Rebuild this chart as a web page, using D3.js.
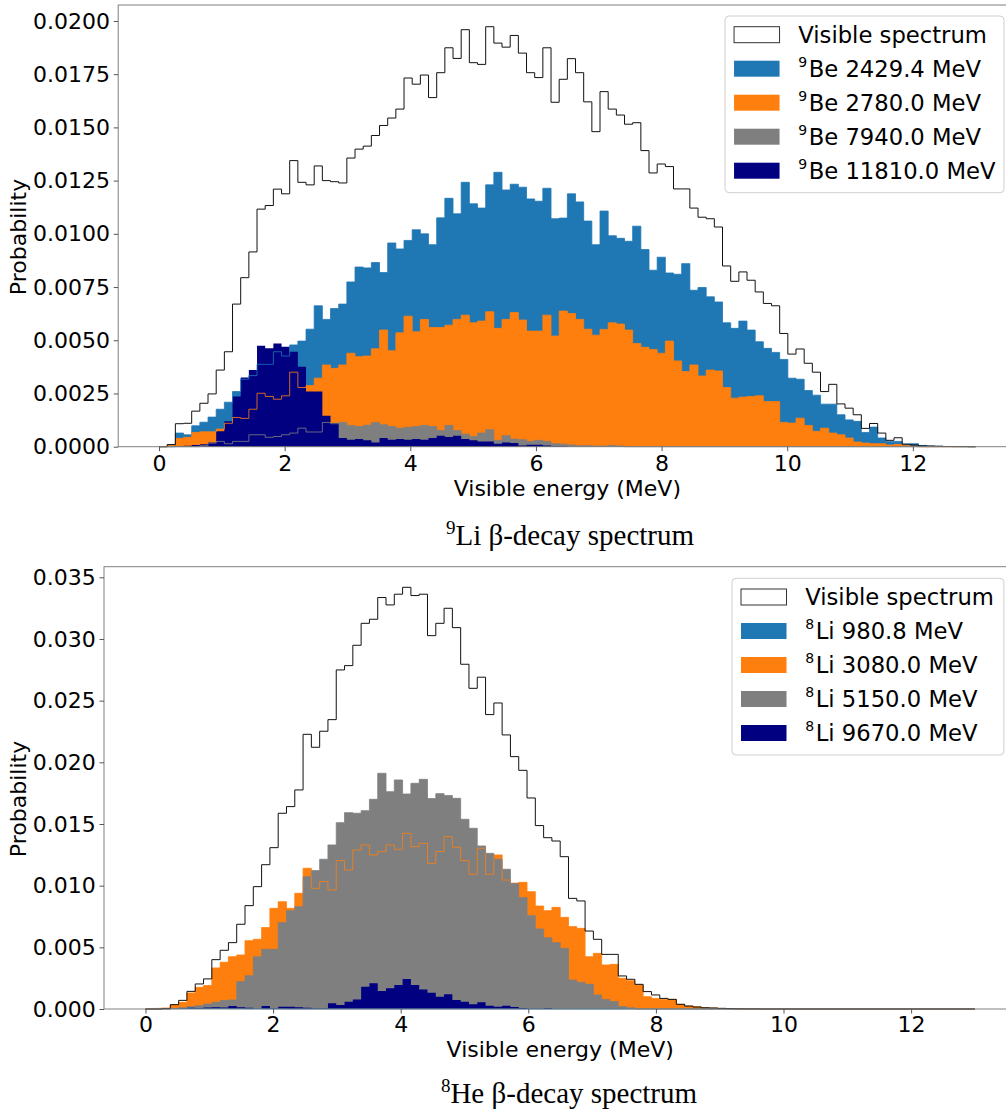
<!DOCTYPE html>
<html>
<head>
<meta charset="utf-8">
<script src="https://cdn.jsdelivr.net/npm/d3@7"></script>
<style>
  body { margin: 0; background: #fff; }
  text { font-family: "DejaVu Sans", sans-serif; }
  text.caption { font-family: "Liberation Serif", "Times New Roman", serif; }
</style>
</head>
<body>
<svg id="s" width="1006" height="1116" xmlns="http://www.w3.org/2000/svg"></svg>
<script>
// 100 histogram bins between 0 and 13 MeV
var nBins = 100, eLow = 0, eHigh = 13;
var binEdges = d3.range(nBins + 1).map(function (i) { return eLow + i * (eHigh - eLow) / nBins; });

var energyTicks = [0, 2, 4, 6, 8, 10, 12];
var li9ProbTicks = [0, 0.0025, 0.005, 0.0075, 0.01, 0.0125, 0.015, 0.0175, 0.02];
var he8ProbTicks = [0, 0.005, 0.01, 0.015, 0.02, 0.025, 0.03, 0.035];

var partColors = ["#1f77b4", "#ff7f0e", "#7f7f7f", "#000080"];
var li9Levels = ["2429.4", "2780.0", "7940.0", "11810.0"];
var he8Levels = ["980.8", "3080.0", "5150.0", "9670.0"];

// ---- 9Li ----
var li9Visible = [
  0, 0.0001, 0.00108, 0.0011, 0.00167, 0.00204, 0.00248, 0.0036, 0.00446, 0.0067,
  0.00794, 0.00915, 0.01116, 0.01133, 0.0121, 0.01188, 0.01344, 0.01242, 0.0123, 0.01319,
  0.0125, 0.01245, 0.01239, 0.01356, 0.01398, 0.01412, 0.01462, 0.01509, 0.01544, 0.01586,
  0.01732, 0.01703, 0.01746, 0.0164, 0.01757, 0.01874, 0.01824, 0.01959, 0.01804, 0.01796,
  0.01973, 0.01896, 0.01877, 0.01932, 0.01849, 0.01757, 0.01734, 0.01874, 0.01618, 0.01726,
  0.01823, 0.01757, 0.0162, 0.0148, 0.01668, 0.01586, 0.01558, 0.01515, 0.01522, 0.01391,
  0.01286, 0.01328, 0.01316, 0.01211, 0.01211, 0.01121, 0.01078, 0.01071, 0.01032, 0.00849,
  0.00777, 0.00821, 0.00782, 0.00727, 0.00673, 0.00662, 0.00532, 0.00435, 0.00459, 0.00392,
  0.0035, 0.00259, 0.00293, 0.00201, 0.00181, 0.0015, 0.00086, 0.00109, 0.00064, 0.0003,
  0.00042, 0.00012, 0.00008, 0.00004, 0.00003, 0.00002, 0.00001, 0.00001, 0.00001, 0];
var li9Be2429 = [
  0, 0, 0.00064, 0.00056, 0.00098, 0.00115, 0.00139, 0.00176, 0.00209, 0.00259,
  0.00317, 0.00334, 0.00387, 0.00387, 0.00446, 0.00426, 0.00478, 0.00496, 0.00552, 0.00662,
  0.00598, 0.00649, 0.0067, 0.00774, 0.00844, 0.0084, 0.00865, 0.00818, 0.00957, 0.00929,
  0.00969, 0.01019, 0.01, 0.00949, 0.01075, 0.01167, 0.01094, 0.01242, 0.01141, 0.01121,
  0.0123, 0.01289, 0.01206, 0.01233, 0.01219, 0.01164, 0.01153, 0.01214, 0.01071, 0.01074,
  0.01188, 0.0115, 0.0106, 0.00949, 0.01107, 0.00991, 0.00979, 0.00965, 0.01036, 0.00926,
  0.00829, 0.0089, 0.00816, 0.0081, 0.0086, 0.00735, 0.00748, 0.00704, 0.0068, 0.00582,
  0.00556, 0.0059, 0.00548, 0.00493, 0.00462, 0.00443, 0.0041, 0.00322, 0.00317, 0.00264,
  0.00242, 0.002, 0.002, 0.0015, 0.00126, 0.00119, 0.00067, 0.00092, 0.00041, 0.00025,
  0.00025, 0.00012, 0.00014, 0.00006, 0.00003, 0.00002, 0.00001, 0, 0, 0];
var li9Be2780 = [
  0, 0.00008, 0.00039, 0.00044, 0.00067, 0.0007, 0.0007, 0.00083, 0.0011, 0.00137,
  0.00133, 0.00176, 0.00251, 0.00236, 0.00223, 0.00239, 0.0035, 0.00278, 0.00287, 0.00322,
  0.00384, 0.00368, 0.00384, 0.00439, 0.00423, 0.00426, 0.0046, 0.00548, 0.00451, 0.00535,
  0.00613, 0.0054, 0.00598, 0.0056, 0.0056, 0.00571, 0.00598, 0.00618, 0.00582, 0.0059,
  0.00634, 0.00556, 0.00598, 0.0063, 0.00595, 0.00543, 0.00543, 0.00618, 0.0052, 0.00637,
  0.00626, 0.00598, 0.00552, 0.00524, 0.00551, 0.00582, 0.00576, 0.00548, 0.00485, 0.00467,
  0.00457, 0.00439, 0.00496, 0.00403, 0.00353, 0.00384, 0.00332, 0.0036, 0.00356, 0.00278,
  0.00228, 0.00233, 0.00236, 0.00239, 0.00212, 0.00212, 0.00114, 0.00111, 0.00134, 0.001,
  0.00072, 0.00087, 0.00064, 0.00056, 0.00041, 0.00022, 0.00017, 0.00014, 0.00014, 0.00008,
  0.00011, 0.00005, 0.00003, 0, 0, 0, 0, 0, 0, 0];
var li9Be7940 = [
  0, 0, 0, 0, 0, 0.00005, 0.00017, 0.00025, 0.00014, 0.00025,
  0.00025, 0.00056, 0.00056, 0.00044, 0.00048, 0.00056, 0.00064, 0.00087, 0.00069, 0.00069,
  0.00114, 0.00108, 0.00114, 0.001, 0.00095, 0.00101, 0.00114, 0.00103, 0.00095, 0.00087,
  0.00091, 0.00095, 0.001, 0.00095, 0.00076, 0.001, 0.00076, 0.00059, 0.00048, 0.00064,
  0.0008, 0.0003, 0.00052, 0.00036, 0.00033, 0.00025, 0.0003, 0.00025, 0.00014, 0.00012,
  0.00008, 0.00005, 0.00005, 0.00003, 0.00003, 0.00006, 0.00003, 0, 0, 0,
  0, 0, 0, 0, 0, 0, 0, 0, 0, 0,
  0, 0, 0, 0, 0, 0, 0, 0, 0, 0,
  0, 0, 0, 0, 0, 0, 0, 0, 0, 0,
  0, 0, 0, 0, 0, 0, 0, 0, 0, 0];
var li9Be11810 = [
  0, 0, 0.00003, 0.00005, 0.00008, 0.00012, 0.0002, 0.00072, 0.00119, 0.00236,
  0.00325, 0.0036, 0.00474, 0.00462, 0.00485, 0.0047, 0.00446, 0.00376, 0.00259, 0.00259,
  0.00145, 0.00111, 0.00041, 0.00033, 0.00036, 0.0003, 0.0002, 0.00041, 0.00033, 0.00036,
  0.00033, 0.00036, 0.00033, 0.00041, 0.00052, 0.00045, 0.00052, 0.00036, 0.0003, 0.00025,
  0.00025, 0.00014, 0.0002, 0.00017, 0.00006, 0.00009, 0.00009, 0.00006, 0.00003, 0.00003,
  0, 0, 0, 0, 0, 0, 0, 0, 0, 0,
  0, 0, 0, 0, 0, 0, 0, 0, 0, 0,
  0, 0, 0, 0, 0, 0, 0, 0, 0, 0,
  0, 0, 0, 0, 0, 0, 0, 0, 0, 0,
  0, 0, 0, 0, 0, 0, 0, 0, 0, 0];

// ---- 8He ----
var he8Visible = [
  0, 0, 0.00003, 0.00035, 0.0007, 0.00143, 0.00203, 0.00244, 0.004, 0.00476,
  0.00538, 0.00687, 0.00838, 0.00992, 0.0117, 0.01308, 0.01587, 0.01641, 0.01776, 0.02227,
  0.02122, 0.02252, 0.02346, 0.02749, 0.02784, 0.02949, 0.03127, 0.0316, 0.03336, 0.03276,
  0.03363, 0.03419, 0.03352, 0.03363, 0.03027, 0.03127, 0.03249, 0.03092, 0.02795, 0.026,
  0.0269, 0.02387, 0.02481, 0.02222, 0.02046, 0.01935, 0.01711, 0.01487, 0.01389, 0.01362,
  0.01235, 0.00897, 0.00876, 0.00632, 0.00565, 0.00443, 0.00443, 0.00268, 0.00241, 0.002,
  0.00141, 0.00114, 0.00086, 0.00078, 0.00038, 0.00024, 0.00016, 0.0001, 0.00008, 0.00005,
  0.00003, 0.00002, 0.00001, 0.00001, 0, 0, 0, 0, 0, 0,
  0, 0, 0, 0, 0, 0, 0, 0, 0, 0,
  0, 0, 0, 0, 0, 0, 0, 0, 0, 0];
var he8Li980 = [
  0, 0, 0.00002, 0.00003, 0.00004, 0.00005, 0.00005, 0.00005, 0.00004, 0.00004,
  0.00003, 0.00003, 0.00002, 0.00002, 0.00001, 0.00001, 0.00001, 0, 0, 0,
  0, 0, 0, 0, 0, 0, 0, 0, 0, 0,
  0, 0, 0, 0, 0, 0, 0, 0, 0, 0,
  0, 0, 0, 0, 0, 0, 0, 0, 0, 0,
  0, 0, 0, 0, 0, 0, 0, 0, 0, 0,
  0, 0, 0, 0, 0, 0, 0, 0, 0, 0,
  0, 0, 0, 0, 0, 0, 0, 0, 0, 0,
  0, 0, 0, 0, 0, 0, 0, 0, 0, 0,
  0, 0, 0, 0, 0, 0, 0, 0, 0, 0];
var he8Li3080 = [
  0, 0.00005, 0.00008, 0.00035, 0.00054, 0.0013, 0.00176, 0.0019, 0.00333, 0.00379,
  0.00424, 0.00438, 0.00554, 0.00565, 0.0066, 0.00816, 0.0087, 0.00816, 0.00938, 0.01141,
  0.00978, 0.01033, 0.00965, 0.01203, 0.01127, 0.01289, 0.0133, 0.01249, 0.01276, 0.0133,
  0.01295, 0.01424, 0.01316, 0.01343, 0.01181, 0.01276, 0.01397, 0.01311, 0.01203, 0.01092,
  0.01303, 0.01092, 0.01249, 0.01046, 0.01019, 0.01027, 0.00951, 0.00835, 0.00797, 0.00824,
  0.00743, 0.00668, 0.00654, 0.00424, 0.00451, 0.00357, 0.00362, 0.00249, 0.0023, 0.00195,
  0.001, 0.00086, 0.00078, 0.00078, 0.00038, 0.00024, 0.00019, 0.0001, 0.00008, 0.00005,
  0.00003, 0, 0, 0, 0, 0, 0, 0, 0, 0,
  0, 0, 0, 0, 0, 0, 0, 0, 0, 0,
  0, 0, 0, 0, 0, 0, 0, 0, 0, 0];
var he8Li5150 = [
  0, 0, 0, 0.00005, 0.0001, 0.00019, 0.00027, 0.0004, 0.00054, 0.0007,
  0.00073, 0.00222, 0.0027, 0.00424, 0.00484, 0.00484, 0.007, 0.00797, 0.0083, 0.01073,
  0.01122, 0.01214, 0.0133, 0.01511, 0.01592, 0.01587, 0.01608, 0.017, 0.01911, 0.01762,
  0.01857, 0.01743, 0.0183, 0.01862, 0.01706, 0.01746, 0.0173, 0.01708, 0.01538, 0.01465,
  0.01322, 0.01262, 0.01214, 0.01133, 0.01019, 0.00903, 0.00757, 0.00649, 0.00578, 0.00538,
  0.00492, 0.00235, 0.00216, 0.002, 0.00114, 0.00078, 0.0006, 0.0002, 0.0001, 0,
  0, 0, 0, 0, 0, 0, 0, 0, 0, 0,
  0, 0, 0, 0, 0, 0, 0, 0, 0, 0,
  0, 0, 0, 0, 0, 0, 0, 0, 0, 0,
  0, 0, 0, 0, 0, 0, 0, 0, 0, 0];
var he8Li9670 = [
  0, 0, 0, 0.00003, 0.00005, 0.0001, 0.00008, 0.00013, 0.00015, 0.00013,
  0.00024, 0.00014, 0.00011, 0.00003, 0.00024, 0.00005, 0.00019, 0.00019, 0.00014, 0.00011,
  0.00005, 0.00005, 0.00046, 0.00032, 0.00059, 0.00078, 0.00181, 0.00208, 0.00146, 0.00168,
  0.00195, 0.00243, 0.00195, 0.00159, 0.00132, 0.001, 0.00119, 0.00073, 0.00059, 0.00038,
  0.00054, 0.00027, 0.00019, 0.00027, 0.00016, 0.00008, 0.00003, 0.00003, 0.00008, 0,
  0, 0, 0, 0, 0, 0, 0, 0, 0, 0,
  0, 0, 0, 0, 0, 0, 0, 0, 0, 0,
  0, 0, 0, 0, 0, 0, 0, 0, 0, 0,
  0, 0, 0, 0, 0, 0, 0, 0, 0, 0,
  0, 0, 0, 0, 0, 0, 0, 0, 0, 0];

var svg = d3.select("#s");

// points for a matplotlib-like step outline: up from the baseline, along the bins, back down
function stepPoints(vals) {
  var pts = [{e: eLow, v: 0}];
  vals.forEach(function (v, i) { pts.push({e: binEdges[i], v: v}); });
  pts.push({e: eHigh, v: vals[vals.length - 1]});
  pts.push({e: eHigh, v: 0});
  return pts;
}

function drawPanel(p) {
  var x = d3.scaleLinear().domain([-0.65, 13.65]).range([p.left, p.right]);
  var y = d3.scaleLinear().domain([0, p.yMax]).range([p.bottom, p.top]);
  var g = svg.append("g");

  var area = d3.area().curve(d3.curveStepAfter)
    .x(function (d) { return x(d.e); })
    .y0(y(0))
    .y1(function (d) { return y(d.v); });
  var line = d3.line().curve(d3.curveStepAfter)
    .x(function (d) { return x(d.e); })
    .y(function (d) { return y(d.v); });

  // filled components, later ones on top
  p.parts.forEach(function (vals, i) {
    g.append("path").attr("d", area(stepPoints(vals))).attr("fill", partColors[i]);
  });
  // thin outlines of the components show through where hidden
  p.parts.forEach(function (vals, i) {
    if (i == 3) return;
    g.append("path").attr("d", line(stepPoints(vals)))
      .attr("fill", "none").attr("stroke", partColors[i])
      .attr("stroke-width", 1).attr("stroke-opacity", 0.8);
  });
  g.append("path").attr("d", line(stepPoints(p.visible)))
    .attr("fill", "none").attr("stroke", "#111").attr("stroke-width", 1);

  // frame
  g.append("rect").attr("x", p.left).attr("y", p.top)
    .attr("width", p.right - p.left).attr("height", p.bottom - p.top)
    .attr("fill", "none").attr("stroke", "#808080").attr("stroke-width", 1);

  var ax = g.append("g").attr("transform", "translate(0," + p.bottom + ")")
    .call(d3.axisBottom(x).tickValues(energyTicks).tickFormat(d3.format("d"))
      .tickSize(4.5).tickPadding(p.xPad));
  var ay = g.append("g").attr("transform", "translate(" + p.left + ",0)")
    .call(d3.axisLeft(y).tickValues(p.yTicks).tickFormat(d3.format(p.yFmt))
      .tickSize(4.5).tickPadding(3.7));
  [ax, ay].forEach(function (a) {
    a.attr("font-size", 22);
    a.select(".domain").remove();
    a.selectAll("line").attr("stroke", "#555");
    a.selectAll("text").attr("fill", "#000");
  });

  g.append("text").attr("x", (p.left + p.right) / 2).attr("y", p.xLabelY)
    .attr("text-anchor", "middle").attr("font-size", 22).text("Visible energy (MeV)");
  g.append("text").attr("transform", "translate(26," + p.yLabelY + ") rotate(-90)")
    .attr("text-anchor", "middle").attr("font-size", 22).text("Probability");

  // caption under the panel
  var cap = g.append("text").attr("class", "caption").attr("x", p.capX).attr("y", p.capY)
    .attr("text-anchor", "middle").attr("font-size", 29);
  cap.append("tspan").attr("font-size", 19).attr("dy", -11).text(p.capMass);
  cap.append("tspan").attr("dy", 11).text(p.capNucleus + " \u03b2-decay spectrum");

  // legend
  var lg = g.append("g");
  var frame = lg.append("rect");
  var names = ["Visible spectrum"].concat(p.levels);
  var texts = [];
  names.forEach(function (nm, i) {
    var t = lg.append("text").attr("y", p.legY + 34 * i).attr("font-size", 22.7);
    if (i == 0) t.text(nm);
    else {
      t.append("tspan").attr("font-size", 14).attr("dy", -10).text(p.mass);
      t.append("tspan").attr("dy", 10).attr("dx", 1.5).text(p.daughter + " " + nm + " MeV");
    }
    texts.push(t);
  });
  var maxW = d3.max(texts, function (t) { return t.node().getComputedTextLength(); });
  var boxW = 9 + 45.5 + 18.7 + maxW + 10;
  var bx = p.right - 12.5 - boxW;
  frame.attr("x", bx).attr("y", p.legY - 26.7).attr("width", boxW).attr("height", 176.7)
    .attr("rx", 4).attr("fill", "#fff").attr("fill-opacity", 0.8)
    .attr("stroke", "#cfcfcf").attr("stroke-width", 1);
  texts.forEach(function (t, i) {
    t.attr("x", bx + 73.2);
    lg.append("rect").attr("x", bx + 9).attr("y", p.legY + 34 * i - 16)
      .attr("width", 45.5).attr("height", 16)
      .attr("fill", i == 0 ? "#fff" : partColors[i - 1])
      .attr("stroke", i == 0 ? "#333" : "none").attr("stroke-width", 1);
  });
}

drawPanel({
  left: 118.2, right: 1016.5, top: 5, bottom: 446.7, yMax: 0.02075,
  yTicks: li9ProbTicks, yFmt: ".4f", xPad: 3.8,
  visible: li9Visible, parts: [li9Be2429, li9Be2780, li9Be7940, li9Be11810],
  mass: "9", daughter: "Be", levels: li9Levels, legY: 42.7,
  xLabelY: 496, yLabelY: 237,
  capX: 570, capY: 545, capMass: "9", capNucleus: "Li"
});
drawPanel({
  left: 104, right: 1016.4, top: 566.7, bottom: 1009, yMax: 0.03586,
  yTicks: he8ProbTicks, yFmt: ".3f", xPad: 2.8,
  visible: he8Visible, parts: [he8Li980, he8Li3080, he8Li5150, he8Li9670],
  mass: "8", daughter: "Li", levels: he8Levels, legY: 605,
  xLabelY: 1057, yLabelY: 799,
  capX: 569, capY: 1103, capMass: "8", capNucleus: "He"
});
</script>
</body>
</html>
